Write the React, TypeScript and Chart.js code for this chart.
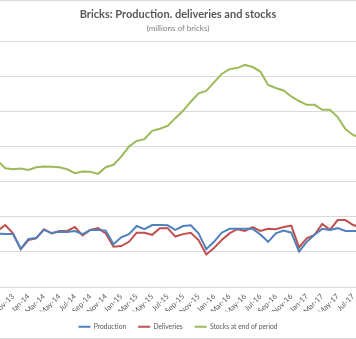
import React, { useEffect, useRef } from "react";
import { Chart, registerables } from "chart.js";

Chart.register(...registerables);

const months = [
  "Sep-13", "Oct-13", "Nov-13", "Dec-13",
  "Jan-14", "Feb-14", "Mar-14", "Apr-14", "May-14", "Jun-14", "Jul-14", "Aug-14", "Sep-14", "Oct-14", "Nov-14", "Dec-14",
  "Jan-15", "Feb-15", "Mar-15", "Apr-15", "May-15", "Jun-15", "Jul-15", "Aug-15", "Sep-15", "Oct-15", "Nov-15", "Dec-15",
  "Jan-16", "Feb-16", "Mar-16", "Apr-16", "May-16", "Jun-16", "Jul-16", "Aug-16", "Sep-16", "Oct-16", "Nov-16", "Dec-16",
  "Jan-17", "Feb-17", "Mar-17", "Apr-17", "May-17", "Jun-17", "Jul-17", "Aug-17",
];

const production = [
  152, 151, 151, 109,
  137, 140, 163, 154, 158, 157, 160, 151, 163, 163, 161, 122,
  142, 151, 174, 165, 177, 177, 176, 163, 174, 176, 153, 108,
  129, 155, 166, 166, 166, 166, 150, 129, 153, 161, 155, 101,
  129, 149, 166, 163, 168, 160, 160, 160,
];

const deliveries = [
  160, 177, 153, 108,
  134, 139, 165, 153, 160, 160, 171, 147, 163, 168, 153, 115,
  117, 129, 155, 155, 149, 168, 168, 144, 151, 155, 134, 93,
  111, 134, 153, 165, 160, 171, 160, 166, 165, 171, 175, 113,
  139, 149, 180, 163, 191, 191, 177, 170,
];

const stocks = [
  360, 339, 336, 338,
  334, 342, 344, 343, 342, 336, 325, 330, 329, 323, 342, 349,
  372, 401, 417, 422, 446, 452, 460, 482, 503, 529, 553, 560,
  584, 608, 622, 625, 634, 628, 615, 577, 568, 561, 544, 531,
  520, 520, 506, 506, 485, 451, 434, 425,
];

// months shown on the axis (every other month, Nov-13 .. Jul-17)
const shownTicks = ["Nov-13", "Jan-14", "Mar-14", "May-14", "Jul-14", "Sep-14", "Nov-14", "Jan-15", "Mar-15", "May-15", "Jul-15", "Sep-15", "Nov-15", "Jan-16", "Mar-16", "May-16", "Jul-16", "Sep-16", "Nov-16", "Jan-17", "Mar-17", "May-17", "Jul-17"];

const seriesNames = ["Production", "Deliveries", "Stocks at end of period"];
const seriesColors = ["#4f81bd", "#c0504d", "#9bbb59"];

const FONT = "Lato, 'Open Sans', sans-serif";

export default function App() {
  const ref = useRef<HTMLCanvasElement | null>(null);

  useEffect(() => {
    const canvas = ref.current;
    if (!canvas) return;
    const toPts = (arr: number[]) => arr.map((v, i) => ({ x: i, y: v }));
    const chart = new Chart(canvas, {
      type: "line",
      data: {
        datasets: [production, deliveries, stocks].map((arr, k) => ({
          label: seriesNames[k],
          data: toPts(arr),
          borderColor: seriesColors[k],
          backgroundColor: seriesColors[k],
          borderWidth: 2,
          pointRadius: 0,
          tension: 0,
          fill: false,
        })),
      },
      options: {
        responsive: false,
        animation: false,
        layout: { padding: 0 },
        scales: {
          x: {
            type: "linear",
            min: 0.318,
            max: 46.37,
            grid: { display: false, drawTicks: false },
            border: { display: false },
            afterBuildTicks: (scale: any) => {
              scale.ticks = shownTicks.map((m) => ({ value: months.indexOf(m) }));
            },
            afterFit: (scale: any) => {
              scale.paddingLeft = 0;
              scale.paddingRight = 0;
              scale.height = 24.3;
            },
            ticks: {
              autoSkip: false,
              minRotation: 45,
              maxRotation: 45,
              padding: 5,
              color: "#595959",
              font: { family: FONT, size: 7.5 },
              callback: (v: any) => months[Math.round(Number(v))],
            },
          },
          y: {
            min: 0,
            max: 700,
            grid: { color: "#d9d9d9", drawTicks: false, lineWidth: 1 },
            border: { display: false },
            ticks: { display: false, stepSize: 100 },
          },
        },
        plugins: {
          title: {
            display: true,
            text: "Bricks: Production. deliveries and stocks",
            color: "#595959",
            font: { family: FONT, size: 11, weight: "bold" },
            padding: { top: 7, bottom: 2 },
          },
          subtitle: {
            display: true,
            text: "(millions of bricks)",
            color: "#7f7f7f",
            font: { family: FONT, size: 8 },
            padding: { top: 0, bottom: 9 },
          },
          legend: {
            position: "bottom",
            labels: {
              usePointStyle: true,
              pointStyle: "line",
              pointStyleWidth: 12,
              padding: 12,
              color: "#595959",
              font: { family: FONT, size: 6.7 },
            },
          },
          tooltip: { enabled: false },
        },
      },
    });
    return () => chart.destroy();
  }, []);

  return (
    <div
      style={{
        position: "absolute",
        left: 0,
        top: 0,
        width: 356,
        height: 339,
        boxSizing: "border-box",
        borderTop: "1px solid #d9d9d9",
        borderBottom: "1px solid #d9d9d9",
        background: "#fff",
        overflow: "hidden",
      }}
    >
      <canvas ref={ref} width={356} height={339} style={{ display: "block" }} />
    </div>
  );
}
